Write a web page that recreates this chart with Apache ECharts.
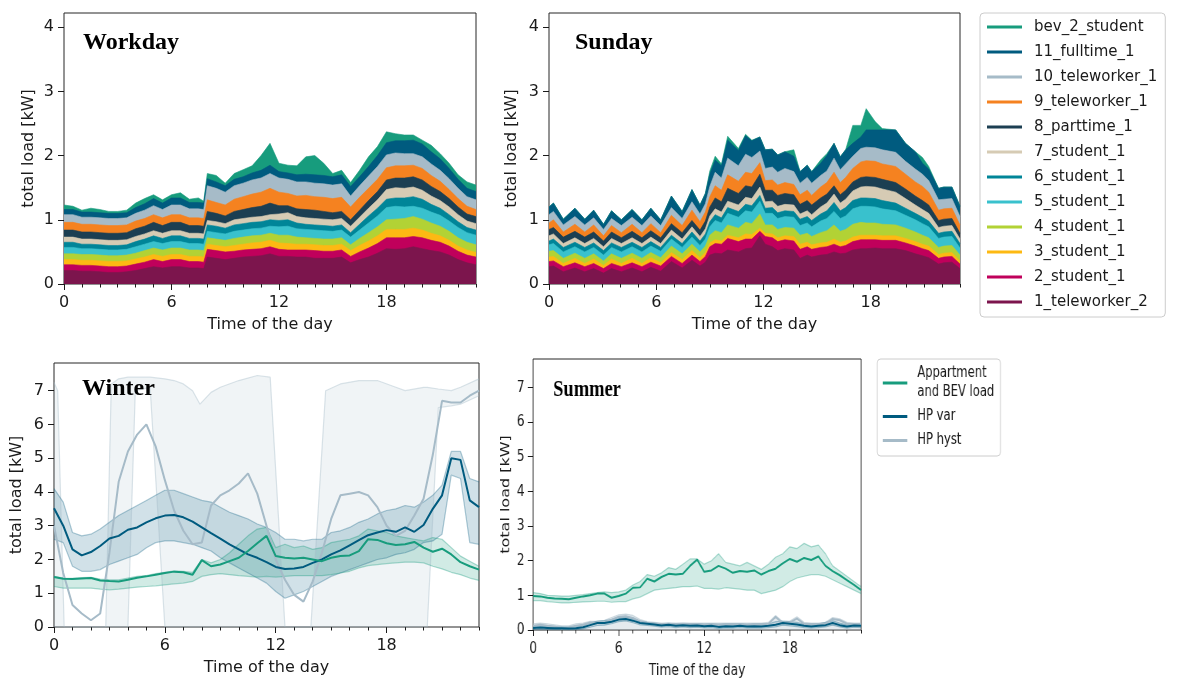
<!DOCTYPE html>
<html>
<head>
<meta charset="utf-8">
<script src="https://cdn.jsdelivr.net/npm/echarts@6/dist/echarts.min.js"></script>
<style>
  html, body { margin: 0; padding: 0; background: #fff; }
  #wrap { position: relative; width: 1188px; height: 690px; overflow: hidden; }
  #main { position: absolute; left: 0; top: 0; width: 1188px; height: 690px; }
  /* the summer panel of the original is squeezed horizontally */
  #summer { position: absolute; left: 490px; top: 350px; width: 900px; height: 340px;
            transform: scaleX(0.77); transform-origin: 0 0; }
</style>
</head>
<body>
<div id="wrap"><div id="main"></div><div id="summer"></div></div>
<script>
// ---------------- data ----------------
const hourTicks = [0, 6, 12, 18];
const loadTicksTop = [0, 1, 2, 3, 4];
const loadTicksBottom = [0, 1, 2, 3, 4, 5, 6, 7];

const layerNames = ['1_teleworker_2', '2_student_1', '3_student_1', '4_student_1', '5_student_1',
  '6_student_1', '7_student_1', '8_parttime_1', '9_teleworker_1', '10_teleworker_1',
  '11_fulltime_1', 'bev_2_student'];
const layerColors = ['#7c154d', '#c0005b', '#fdb913', '#b2d235', '#39c1cd', '#008598',
  '#d6cbb4', '#1c3f52', '#f58220', '#a6bbc8', '#005b7f', '#179c7d'];

// workday, thickness of each stacked layer
const hoursWork = [0, 0.5, 1, 1.5, 2, 2.5, 3, 3.5, 4, 4.5, 5, 5.5, 6, 6.5, 7, 7.5, 7.8, 8, 8.5, 9,
  9.5, 10, 10.5, 11, 11.5, 12, 12.5, 13, 13.5, 14, 14.5, 15, 15.5, 16, 16.5, 17, 17.5, 18, 18.5,
  19, 19.5, 20, 20.5, 21, 21.5, 22, 22.5, 23];
const work01 = [.21,.21,.20,.20,.19,.18,.18,.19, .21,.24,.27,.25,.27,.27,.25,.25, .24, .42,.40,.38,.40,.42,.43,.44,.47, .43,.43,.42,.42,.40,.40,.40,.42, .33,.38,.42,.48,.55,.54,.55,.58, .55,.52,.50,.45,.38,.33,.30];
const work02 = [.09,.09,.09,.09,.09,.09,.09,.09, .10,.10,.11,.10,.11,.11,.10,.10, .10, .12,.12,.12,.11,.11,.11,.11,.11, .11,.10,.11,.11,.12,.11,.11,.11, .10,.12,.14,.15,.17,.18,.17,.16, .17,.16,.15,.14,.13,.12,.12];
const work03 = [.08,.08,.08,.08,.08,.08,.08,.08, .08,.08,.08,.08,.08,.08,.08,.08, .08, .08,.08,.08,.09,.09,.10,.10,.10, .10,.10,.09,.09,.09,.09,.09,.09, .09,.10,.11,.12,.13,.13,.13,.13, .12,.11,.10,.09,.08,.08,.07];
const work04 = [.09,.09,.09,.09,.09,.09,.09,.09, .09,.10,.10,.10,.10,.10,.10,.10, .10, .10,.10,.10,.11,.11,.11,.11,.11, .12,.13,.11,.10,.10,.10,.10,.10, .09,.11,.13,.14,.15,.16,.17,.18, .17,.16,.15,.14,.13,.12,.12];
const work05 = [.10,.10,.09,.09,.09,.09,.09,.09, .10,.10,.10,.10,.10,.10,.10,.10, .10, .10,.10,.10,.11,.11,.11,.11,.11, .13,.14,.13,.13,.13,.13,.12,.12, .12,.13,.15,.17,.19,.20,.18,.16, .17,.17,.17,.16,.16,.15,.15];
const work06 = [.08,.08,.07,.07,.07,.07,.07,.07, .08,.08,.09,.08,.09,.09,.08,.08, .08, .10,.10,.09,.10,.10,.10,.10,.10, .10,.10,.09,.08,.08,.08,.08,.08, .07,.09,.11,.12,.13,.13,.14,.15, .14,.12,.11,.10,.09,.08,.08];
const work07 = [.08,.08,.08,.08,.08,.08,.08,.08, .08,.08,.08,.08,.08,.08,.08,.08, .08, .07,.07,.07,.08,.08,.08,.08,.08, .10,.11,.10,.10,.10,.10,.10,.10, .10,.11,.12,.13,.15,.16,.15,.15, .14,.13,.12,.12,.11,.10,.10];
const work08 = [.11,.11,.11,.11,.11,.11,.11,.11, .12,.12,.13,.12,.13,.13,.12,.12, .12, .14,.13,.12,.13,.14,.15,.16,.18, .13,.11,.12,.13,.13,.12,.11,.11, .10,.11,.12,.13,.15,.15,.16,.16, .16,.15,.14,.13,.12,.11,.11];
const work09 = [.12,.12,.12,.12,.12,.12,.12,.12, .12,.12,.12,.12,.12,.12,.12,.12, .12, .18,.17,.17,.19,.20,.21,.22,.23, .21,.19,.20,.22,.21,.22,.22,.22, .20,.20,.19,.19,.19,.19,.19,.18, .18,.17,.16,.14,.13,.12,.11];
const work10 = [.12,.12,.11,.11,.11,.11,.11,.11, .12,.13,.14,.13,.15,.15,.14,.14, .14, .22,.22,.20,.21,.21,.22,.22,.23, .22,.22,.22,.21,.21,.21,.21,.21, .17,.18,.19,.20,.20,.20,.19,.18, .18,.18,.17,.17,.16,.15,.15];
const work11 = [.08,.08,.08,.08,.08,.08,.08,.08, .09,.10,.11,.10,.11,.11,.10,.10, .10, .11,.10,.10,.10,.10,.11,.12,.13, .10,.10,.11,.12,.13,.13,.13,.14, .15,.14,.15,.17,.19,.19,.20,.21, .20,.19,.18,.16,.14,.13,.13];
const work12 = [.07,.05,.03,.06,.05,.03,.03,.04, .07,.08,.06,.05,.05,.08,.05,.07, .03, .08,.10,.04,.09,.11,.11,.23,.34, .13,.12,.14,.27,.30,.19,.05,.07, .06,.10,.15,.14,.17,.11,.09,.08, .06,.10,.08,.08,.07,.10,.10];

// sunday, thickness of each stacked layer (times follow the zig-zag)
const hoursSun = [0, 0.25, 0.8, 1.45, 2.0, 2.5, 3.05, 3.5, 4.05, 4.65, 5.2, 5.7, 6.25, 6.85, 7.45,
  8.0, 8.45, 8.75, 9.0, 9.3, 9.65, 10.0, 10.6, 11.0, 11.35, 11.8, 12.1, 12.5, 12.8, 13.2, 13.7,
  14.05, 14.45, 14.7, 15.2, 15.55, 15.95, 16.3, 16.6, 17.0, 17.45, 17.75, 18.25, 18.65, 19.4,
  19.95, 20.5, 20.9, 21.25, 21.8, 22.1, 22.55, 23.0];
const sun01 = [.27,.28,.19,.25,.19,.24,.17,.24,.19,.25, .19,.26,.20,.35,.25,.37, .28,.34,.45,.48,.47,.53,.50,.55,.56,.75, .62,.58,.52,.55,.53,.40,.45,.42,.45,.46, .50,.47,.48,.53,.55,.55,.56,.55,.55,.52, .47,.44,.41,.31,.33,.34,.24];
const sun02 = [.08,.08,.08,.08,.08,.08,.07,.08,.08,.08, .08,.08,.08,.08,.07,.08, .07,.09,.13,.15,.15,.18,.16,.15,.14,.07, .12,.14,.14,.14,.14,.14,.13,.12,.12,.12, .12,.11,.12,.13,.14,.14,.13,.13,.13,.12, .12,.11,.11,.09,.09,.09,.07];
const sun03 = [.07,.07,.05,.07,.05,.07,.05,.07,.05,.07, .05,.07,.05,.06,.06,.07, .06,.06,.06,.06,.05,.05,.06,.08,.07,.05, .05,.06,.06,.06,.07,.08,.07,.07,.07,.07, .08,.07,.07,.07,.07,.07,.07,.07,.07,.07, .07,.07,.07,.06,.06,.06,.05];
const sun04 = [.09,.09,.08,.08,.08,.08,.07,.08,.08,.08, .08,.08,.08,.10,.09,.10, .09,.10,.12,.14,.13,.16,.15,.18,.17,.22, .13,.14,.13,.13,.13,.14,.14,.13,.16,.18, .22,.17,.18,.20,.20,.19,.19,.18,.17,.16, .15,.14,.13,.11,.11,.11,.09];
const sun05 = [.10,.11,.10,.10,.10,.10,.09,.10,.10,.10, .10,.10,.10,.11,.10,.11, .10,.11,.13,.16,.15,.18,.17,.18,.18,.20, .18,.18,.17,.17,.17,.15,.16,.15,.18,.19, .21,.20,.21,.24,.25,.26,.25,.24,.22,.20, .19,.18,.17,.14,.14,.14,.11];
const sun06 = [.06,.07,.07,.07,.07,.07,.07,.07,.07,.07, .07,.07,.06,.06,.06,.08, .07,.08,.08,.09,.08,.09,.09,.10,.10,.09, .08,.09,.09,.09,.09,.10,.10,.10,.11,.12, .14,.12,.13,.13,.13,.13,.13,.13,.12,.11, .10,.10,.09,.08,.08,.08,.07];
const sun07 = [.08,.08,.06,.07,.06,.07,.06,.07,.06,.07, .06,.07,.06,.08,.07,.08, .07,.08,.09,.09,.09,.10,.10,.11,.11,.13, .10,.10,.10,.10,.10,.08,.09,.09,.11,.12, .13,.12,.13,.15,.17,.18,.18,.18,.17,.15, .13,.12,.12,.09,.09,.09,.07];
const sun08 = [.10,.10,.10,.10,.10,.10,.09,.10,.09,.10, .09,.10,.09,.10,.10,.10, .10,.12,.14,.17,.16,.20,.18,.18,.18,.20, .18,.17,.17,.17,.16,.15,.16,.15,.14,.14, .13,.13,.14,.14,.15,.15,.15,.15,.15,.15, .14,.14,.13,.11,.11,.11,.09];
const sun09 = [.10,.12,.08,.11,.08,.11,.08,.10,.08,.11, .08,.11,.08,.13,.11,.16, .13,.14,.16,.19,.18,.21,.19,.21,.21,.18, .15,.16,.16,.17,.16,.15,.16,.15,.17,.18, .21,.19,.20,.21,.24,.25,.25,.24,.25,.23, .22,.22,.20,.16,.16,.16,.13];
const sun10 = [.13,.13,.11,.12,.11,.11,.10,.11,.11,.11, .11,.12,.11,.12,.11,.13, .12,.13,.16,.21,.19,.26,.24,.28,.25,.18, .19,.20,.20,.22,.20,.18,.20,.19,.18,.18, .22,.20,.21,.19,.21,.21,.21,.22,.22,.20, .20,.19,.18,.16,.15,.15,.13];
const sun11 = [.12,.13,.09,.13,.09,.12,.08,.12,.09,.12, .09,.12,.09,.18,.11,.19, .14,.16,.19,.19,.19,.28,.24,.29,.26,.22, .29,.28,.27,.26,.24,.18,.19,.18,.19,.24, .23,.20,.22,.20,.18,.27,.28,.31,.35,.28, .27,.17,.18,.18,.19,.18,.16];
const sun12 = [0,0,0,0,0,0,0,0,0,0, 0,0,0,0,0,0, 0,0,.05,.06,.03,.06,.03,.02,.01,0, 0,0,0,0,.10,0,0,0,.05,.03, 0,0,0,.28,.18,.33,.13,.02,0,0, 0,.09,.04,0,0,0,0];

// winter / summer, half-hourly means and band limits
const hoursHalf = [0, 0.5, 1, 1.5, 2, 2.5, 3, 3.5, 4, 4.5, 5, 5.5, 6, 6.5, 7, 7.5, 8, 8.5, 9, 9.5,
  10, 10.5, 11, 11.5, 12, 12.5, 13, 13.5, 14, 14.5, 15, 15.5, 16, 16.5, 17, 17.5, 18, 18.5, 19,
  19.5, 20, 20.5, 21, 21.5, 22, 22.5, 23];

const appWinter   = [1.48,1.43,1.42,1.44,1.45,1.38,1.36,1.35,1.40,1.46,1.50,1.55,1.60,1.64,1.62,1.55, 1.98,1.80,1.85,1.95,2.05,2.25,2.48,2.70,2.10,2.05,2.03,2.05,2.00,1.95,2.05,2.10, 2.12,2.25,2.60,2.58,2.48,2.43,2.45,2.52,2.35,2.23,2.32,2.15,1.92,1.80,1.70];
const appWinterHi = [1.50,1.45,1.44,1.46,1.47,1.42,1.40,1.40,1.45,1.50,1.52,1.58,1.62,1.66,1.65,1.62, 2.00,1.90,2.00,2.20,2.45,2.70,2.90,2.95,2.35,2.45,2.35,2.40,2.30,2.35,2.50,2.55, 2.60,2.70,2.90,2.85,2.80,2.70,2.65,2.60,2.55,2.65,2.60,2.35,2.10,1.95,1.80];
const appWinterLo = [1.20,1.15,1.15,1.15,1.15,1.12,1.10,1.12,1.15,1.18,1.20,1.22,1.25,1.28,1.30,1.35, 1.50,1.55,1.58,1.55,1.52,1.50,1.48,1.50,1.48,1.50,1.52,1.52,1.52,1.52,1.55,1.60, 1.65,1.75,1.82,1.85,1.88,1.90,1.92,1.92,1.90,1.80,1.72,1.62,1.55,1.45,1.38];
const hpVarWinter   = [3.52,3.00,2.30,2.12,2.22,2.40,2.62,2.70,2.88,2.95,3.10,3.22,3.30,3.32,3.25,3.12, 2.95,2.78,2.62,2.45,2.30,2.15,2.05,1.92,1.78,1.72,1.73,1.78,1.90,2.00,2.15,2.27, 2.42,2.57,2.72,2.80,2.87,2.82,2.95,2.82,3.02,3.50,3.90,5.00,4.95,3.75,3.55];
const hpVarWinterHi = [4.10,3.70,2.80,2.70,2.75,2.90,3.10,3.30,3.45,3.60,3.75,3.90,4.05,4.05,3.95,3.85, 3.75,3.70,3.55,3.40,3.30,3.20,3.05,2.95,2.80,2.60,2.60,2.55,2.60,2.60,2.80,2.85, 2.95,3.10,3.20,3.35,3.45,3.50,3.60,3.55,3.70,3.90,4.20,5.20,5.20,4.40,4.30];
const hpVarWinterLo = [2.60,2.50,1.80,1.65,1.65,1.70,1.85,1.95,2.05,2.15,2.35,2.50,2.55,2.55,2.50,2.45, 2.35,2.25,2.05,1.90,1.75,1.60,1.45,1.30,1.05,0.85,0.95,1.05,1.20,1.35,1.50,1.60, 1.70,1.80,1.90,2.00,2.05,2.15,2.20,2.30,2.50,2.55,2.75,4.50,4.40,2.50,2.45];
const hpHystWinter  = [3.00,1.60,0.65,0.40,0.20,0.40,2.20,4.30,5.20,5.70,6.00,5.35,4.35,3.45,2.85,2.45, 2.50,3.60,3.90,4.05,4.25,4.55,3.95,3.00,2.00,1.40,0.95,0.75,1.35,2.20,3.20,3.90, 3.95,4.00,3.90,3.55,3.00,2.70,2.85,3.30,3.80,5.10,6.70,6.65,6.65,6.85,7.00];
const hoursHystBand = [0, 0.2, 0.55, 2.8, 3.1, 3.5, 4.0, 4.4, 5.2, 6.0, 6.5, 7.0, 7.5, 7.9, 8.5, 9.0,
  10.0, 11.0, 11.7, 12.5, 13.9, 14.7, 15.5, 16.5, 17.5, 18.5, 19.0, 20.0, 20.2, 20.8, 21.5, 22.0, 23.0];
const hpHystWinterHi = [7.25,7.00,0,0,7.20,7.35,7.40,7.40,7.40,7.35,7.30,7.20,7.00,6.60,6.95,7.10, 7.30,7.45,7.40,0,0,7.00,7.20,7.30,7.30,7.10,7.00,7.10,7.10,7.05,7.00,7.10,7.35];
const hpHystWinterLo = [0,0,0,0,0,0,0,7.00,7.10,0,0,0,0,0,0,0, 0,0,0,0,0,0,0,0,0,0,0,0,0,6.50,6.55,6.60,6.85];

const appSummer   = [0.98,0.97,0.93,0.91,0.90,0.89,0.93,0.97,1.00,1.05,1.05,0.93,0.98,1.05,1.22,1.23, 1.48,1.40,1.53,1.62,1.60,1.62,1.85,2.03,1.68,1.72,1.85,1.77,1.65,1.70,1.68,1.72, 1.60,1.70,1.77,1.92,2.05,1.97,2.08,2.02,2.12,1.85,1.70,1.58,1.44,1.30,1.15];
const appSummerHi = [1.08,1.05,1.00,0.99,0.98,0.98,1.00,1.02,1.05,1.08,1.10,1.08,1.10,1.15,1.30,1.40, 1.60,1.55,1.65,1.80,1.75,1.90,2.05,2.05,1.90,2.00,2.20,1.95,1.90,1.85,1.95,1.85, 1.75,1.90,2.10,2.20,2.40,2.35,2.50,2.40,2.45,2.20,1.85,1.70,1.55,1.40,1.25];
const appSummerLo = [0.85,0.85,0.82,0.80,0.78,0.78,0.80,0.81,0.82,0.83,0.83,0.80,0.82,0.82,0.90,0.95, 1.05,1.15,1.18,1.20,1.22,1.25,1.25,1.27,1.20,1.20,1.18,1.22,1.20,1.18,1.15,1.15, 1.05,1.10,1.15,1.25,1.40,1.50,1.55,1.60,1.60,1.55,1.45,1.35,1.25,1.15,1.05];
const hpVarSummer   = [0.06,0.07,0.06,0.05,0.05,0.04,0.05,0.08,0.14,0.20,0.20,0.24,0.30,0.32,0.27,0.20, 0.18,0.16,0.13,0.15,0.12,0.14,0.12,0.13,0.11,0.12,0.09,0.11,0.10,0.12,0.10,0.11, 0.10,0.12,0.15,0.20,0.18,0.16,0.12,0.10,0.12,0.14,0.20,0.14,0.10,0.13,0.12];
const hpVarSummerHi = [0.12,0.12,0.10,0.09,0.09,0.08,0.09,0.14,0.20,0.26,0.27,0.30,0.36,0.38,0.33,0.25, 0.22,0.20,0.18,0.19,0.17,0.18,0.17,0.18,0.16,0.17,0.14,0.16,0.15,0.17,0.15,0.16, 0.15,0.18,0.24,0.26,0.24,0.22,0.17,0.15,0.17,0.22,0.27,0.20,0.15,0.18,0.17];
const hpVarSummerLo = [0.01,0.02,0.01,0.01,0.01,0.00,0.01,0.03,0.08,0.13,0.14,0.18,0.24,0.26,0.21,0.15, 0.13,0.11,0.08,0.10,0.07,0.09,0.07,0.08,0.06,0.07,0.04,0.06,0.05,0.07,0.05,0.06, 0.05,0.07,0.09,0.14,0.12,0.10,0.07,0.05,0.07,0.09,0.14,0.09,0.05,0.08,0.07];
const hpHystSummer   = [0.12,0.15,0.12,0.10,0.05,0.08,0.12,0.15,0.22,0.20,0.22,0.30,0.38,0.40,0.35,0.25, 0.20,0.18,0.17,0.18,0.17,0.18,0.17,0.17,0.16,0.17,0.16,0.17,0.17,0.17,0.16,0.17, 0.17,0.18,0.38,0.20,0.22,0.33,0.18,0.17,0.17,0.18,0.32,0.28,0.18,0.17,0.17];
const hpHystSummerHi = [0.18,0.20,0.18,0.15,0.12,0.12,0.18,0.20,0.25,0.25,0.28,0.36,0.44,0.46,0.42,0.30, 0.24,0.22,0.20,0.20,0.20,0.20,0.20,0.20,0.20,0.20,0.20,0.20,0.20,0.20,0.20,0.20, 0.20,0.22,0.42,0.24,0.26,0.38,0.22,0.20,0.20,0.22,0.36,0.32,0.22,0.20,0.20];

// ---------------- helpers ----------------
const FONT = "'DejaVu Sans', sans-serif";
const TITLE_FONT = "'Liberation Serif', 'DejaVu Serif', serif";
const INK = '#1a1a1a';
const GREEN = '#179c7d', BLUE = '#005b7f', GREY = '#a6bbc8';

const pairs = (xs, ys) => xs.map((x, i) => [x, ys[i]]);

function gridBox(left, top, width, height) {
  return { left, top, width, height, show: true, borderColor: '#262626', borderWidth: 1,
           backgroundColor: 'transparent', containLabel: false };
}

function hourAxes(gridIndex, nameGap) {
  return [
    { type: 'value', gridIndex, position: 'bottom', min: 0, max: 23,
      axisLine: { show: false }, splitLine: { show: false },
      axisTick: { customValues: hourTicks, length: 6, lineStyle: { color: INK } },
      axisLabel: { customValues: hourTicks, margin: 11, fontSize: 16, color: INK, fontFamily: FONT },
      name: 'Time of the day', nameLocation: 'middle', nameGap,
      nameTextStyle: { fontSize: 16, color: INK, fontFamily: FONT } },
    // minor ticks every hour
    { type: 'value', gridIndex, position: 'bottom', min: 0, max: 23, interval: 1,
      axisLine: { show: false }, splitLine: { show: false }, axisLabel: { show: false },
      axisTick: { length: 3.5, lineStyle: { color: INK } } }
  ];
}

function loadAxis(gridIndex, max, ticks, nameGap, tickLen, margin) {
  return { type: 'value', gridIndex, min: 0, max,
    axisLine: { show: false }, splitLine: { show: false },
    axisTick: { customValues: ticks, length: tickLen, lineStyle: { color: INK } },
    axisLabel: { customValues: ticks, margin, fontSize: 16, color: INK, fontFamily: FONT },
    name: 'total load [kW]', nameLocation: 'middle', nameGap,
    nameTextStyle: { fontSize: 16, color: INK, fontFamily: FONT } };
}

// stacked areas: ECharts stacks the x value when both axes are numeric,
// so the running totals are built here and painted from the top layer down
function stackSeries(xs, layers, gi) {
  let run = xs.map(() => 0);
  const series = layers.map((ys, k) => {
    run = run.map((v, i) => +(v + ys[i]).toFixed(3));
    return {
      name: layerNames[k], type: 'line', xAxisIndex: gi * 2, yAxisIndex: gi,
      data: pairs(xs, run), symbol: 'none', color: layerColors[k],
      lineStyle: { color: layerColors[k], width: 0.6 },
      areaStyle: { color: layerColors[k], opacity: 1, origin: 'start' }, silent: true, z: 2
    };
  });
  return series.reverse();
}

// translucent band between lo and hi (lo = 0 when omitted) with faint edge lines
function bandSeries(xs, lo, hi, color, xi, yi, fillOp, edgeOp) {
  const out = [{
    type: 'custom', xAxisIndex: xi, yAxisIndex: yi, silent: true, z: 2,
    data: [[xs[0], hi[0]]],
    renderItem: (params, api) => {
      const top = xs.map((x, i) => api.coord([x, hi[i]]));
      const bottom = xs.map((x, i) => api.coord([x, lo ? lo[i] : 0])).reverse();
      return { type: 'polygon', shape: { points: top.concat(bottom) },
               style: { fill: color, opacity: fillOp } };
    }
  }];
  [hi, lo].forEach((edge) => {
    if (!edge) return;
    out.push({ type: 'line', xAxisIndex: xi, yAxisIndex: yi, data: pairs(xs, edge),
      symbol: 'none', lineStyle: { color, width: 1.2, opacity: edgeOp }, silent: true, z: 2 });
  });
  return out;
}

function meanLine(name, xs, ys, color, xi, yi) {
  return { name, type: 'line', xAxisIndex: xi, yAxisIndex: yi, data: pairs(xs, ys),
    symbol: 'none', color, lineStyle: { color, width: 2 }, silent: true, z: 3 };
}

function panelTitle(text, left, top) {
  return { text, left, top, padding: 0,
    textStyle: { fontFamily: TITLE_FONT, fontWeight: 'bold', fontSize: 24, color: '#000' } };
}

// ---------------- main chart (workday, sunday, winter) ----------------
const mainChart = echarts.init(document.getElementById('main'), null, { renderer: 'canvas' });

mainChart.setOption({
  animation: false,
  backgroundColor: '#fff',
  title: [
    panelTitle('Workday', 83, 31),
    panelTitle('Sunday', 575, 31),
    panelTitle('Winter', 82, 377)
  ],
  legend: {
    orient: 'vertical', left: 980, top: 13, selectedMode: false,
    data: layerNames.slice().reverse(),
    icon: 'rect', itemWidth: 35, itemHeight: 3, itemGap: 9,
    padding: [6, 8, 7, 7], backgroundColor: '#fff',
    borderColor: '#cccccc', borderWidth: 1, borderRadius: 4,
    textStyle: { fontSize: 15, color: INK, fontFamily: FONT, lineHeight: 16, padding: [0, 0, 0, 7] }
  },
  grid: [
    gridBox(64, 13, 412, 271),
    gridBox(549, 13, 411, 271),
    gridBox(54, 363, 425, 264)
  ],
  xAxis: [
    ...hourAxes(0, 33),
    ...hourAxes(1, 33),
    ...hourAxes(2, 33)
  ],
  yAxis: [
    loadAxis(0, 4.22, loadTicksTop, 27, 6, 10),
    loadAxis(1, 4.22, loadTicksTop, 29, 6, 10),
    loadAxis(2, 7.82, loadTicksBottom, 29, 6, 10)
  ],
  series: [
    ...stackSeries(hoursWork, [work01, work02, work03, work04, work05, work06, work07, work08,
      work09, work10, work11, work12], 0),
    ...stackSeries(hoursSun, [sun01, sun02, sun03, sun04, sun05, sun06, sun07, sun08,
      sun09, sun10, sun11, sun12], 1),
    ...bandSeries(hoursHystBand, hpHystWinterLo, hpHystWinterHi, GREY, 4, 2, 0.17, 0.4),
    ...bandSeries(hoursHalf, hpVarWinterLo, hpVarWinterHi, BLUE, 4, 2, 0.18, 0.3),
    ...bandSeries(hoursHalf, appWinterLo, appWinterHi, GREEN, 4, 2, 0.2, 0.35),
    meanLine('HP hyst', hoursHalf, hpHystWinter, GREY, 4, 2),
    meanLine('HP var', hoursHalf, hpVarWinter, BLUE, 4, 2),
    meanLine('Appartment and BEV load', hoursHalf, appWinter, GREEN, 4, 2)
  ]
});

// ---------------- summer chart (drawn wide, squeezed by CSS) ----------------
const summerChart = echarts.init(document.getElementById('summer'), null, { renderer: 'canvas' });

summerChart.setOption({
  animation: false,
  title: [panelTitle('Summer', 82, 28)],
  legend: {
    orient: 'vertical', left: 503, top: 9, selectedMode: false,
    data: ['Appartment and BEV load', 'HP var', 'HP hyst'],
    formatter: (n) => n === 'Appartment and BEV load' ? 'Appartment\nand BEV load' : n,
    icon: 'rect', itemWidth: 32, itemHeight: 3, itemGap: 5,
    padding: [5, 8, 6, 7], backgroundColor: '#fff',
    borderColor: '#cccccc', borderWidth: 1, borderRadius: 4,
    textStyle: { fontSize: 15, color: INK, fontFamily: FONT, lineHeight: 19, padding: [0, 0, 0, 8] }
  },
  grid: [gridBox(56, 9, 426, 271)],
  xAxis: hourAxes(0, 33),
  yAxis: [loadAxis(0, 7.82, loadTicksBottom, 27, 7, 11)],
  series: [
    ...bandSeries(hoursHalf, null, hpHystSummerHi, GREY, 0, 0, 0.3, 0.5),
    ...bandSeries(hoursHalf, hpVarSummerLo, hpVarSummerHi, BLUE, 0, 0, 0.18, 0.3),
    ...bandSeries(hoursHalf, appSummerLo, appSummerHi, GREEN, 0, 0, 0.2, 0.35),
    meanLine('HP hyst', hoursHalf, hpHystSummer, GREY, 0, 0),
    meanLine('HP var', hoursHalf, hpVarSummer, BLUE, 0, 0),
    meanLine('Appartment and BEV load', hoursHalf, appSummer, GREEN, 0, 0)
  ]
});
</script>
</body>
</html>
